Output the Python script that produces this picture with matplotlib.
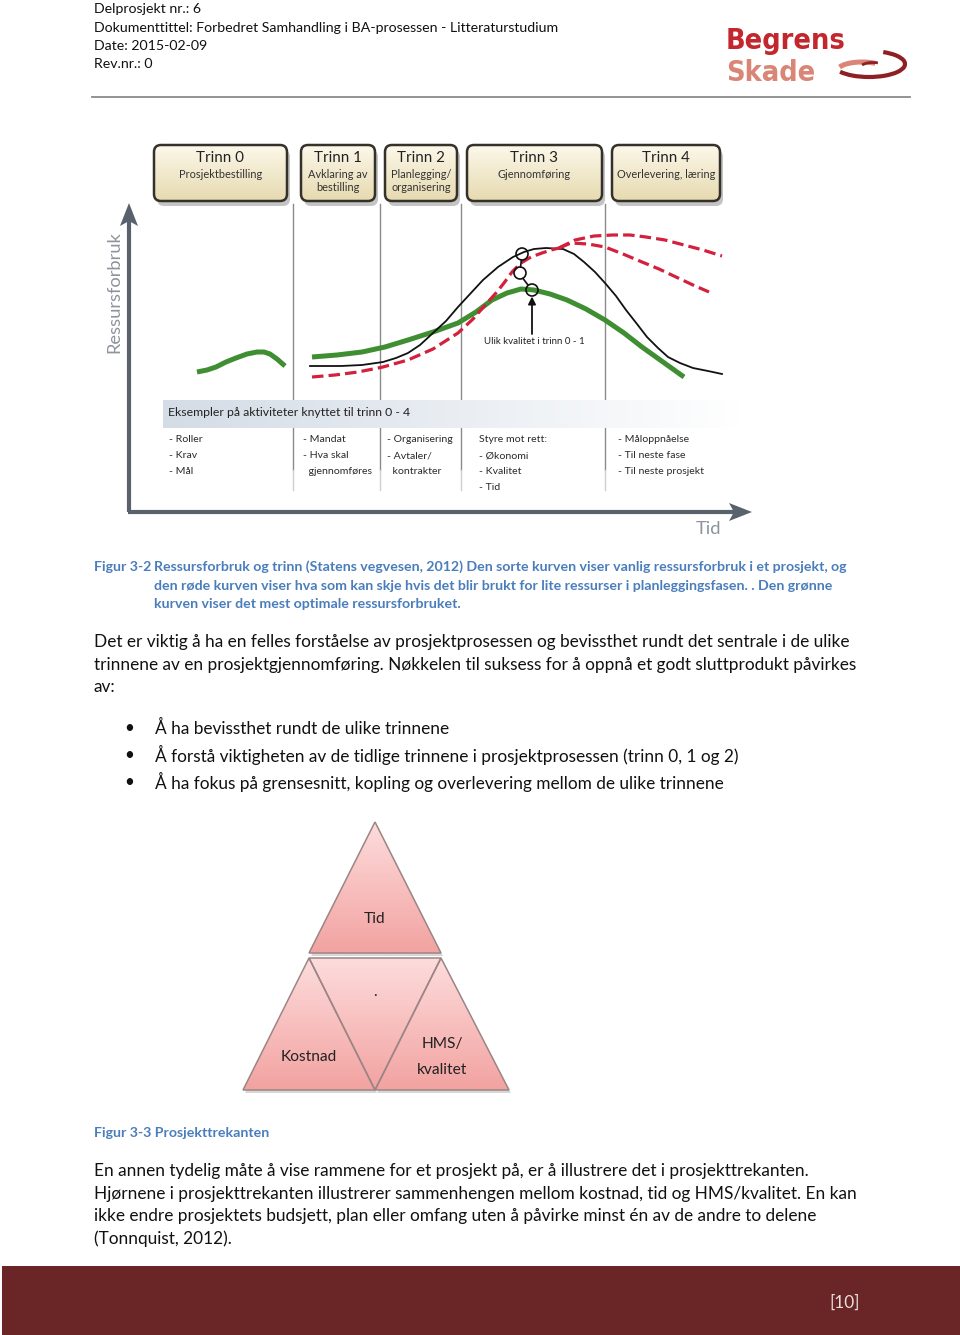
import numpy as np
import matplotlib
matplotlib.use('Agg')
import matplotlib.pyplot as plt
from matplotlib.patches import FancyBboxPatch, Polygon, Rectangle, Circle, Arc
from matplotlib.textpath import TextPath
from matplotlib.font_manager import FontProperties

# ---- page text ----
header = ['Delprosjekt nr.: 6',
          'Dokumenttittel: Forbedret Samhandling i BA-prosessen - Litteraturstudium',
          'Date: 2015-02-09',
          'Rev.nr.: 0']

stage_titles = ['Trinn 0', 'Trinn 1', 'Trinn 2', 'Trinn 3', 'Trinn 4']
stage_sub = [['Prosjektbestilling'], ['Avklaring av', 'bestilling'],
             ['Planlegging/', 'organisering'], ['Gjennomføring'],
             ['Overlevering, læring']]

activities = [['- Roller', '- Krav', '- Mål'],
              ['- Mandat', '- Hva skal', '  gjennomføres'],
              ['- Organisering', '- Avtaler/', '  kontrakter'],
              ['Styre mot rett:', '- Økonomi', '- Kvalitet', '- Tid'],
              ['- Måloppnåelse', '- Til neste fase', '- Til neste prosjekt']]

# curve points (page pixels: x, y)
green_small_x = [197, 207, 216, 226, 236, 247, 257, 264, 270, 277, 285]
green_small_y = [372, 370, 367, 362, 358, 354, 352, 352, 354, 359, 366]

black_x = [310, 341, 362, 383, 396, 408, 420, 433, 446, 458, 470, 483, 498, 513, 524, 534, 546, 563, 574, 584, 595, 605, 616, 626, 637, 647, 658, 668, 680, 693, 708, 722]
black_y = [366, 366, 365, 362, 358, 353, 345, 333, 321, 307, 294, 280, 267, 257, 252, 249, 248, 249, 254, 262, 272, 283, 296, 310, 324, 337, 348, 357, 363, 368, 371, 374]

red_x = [312, 335, 358, 383, 408, 433, 458, 473, 487, 496, 504, 512, 521, 531, 542, 551, 559]
red_y = [377, 375, 372, 367, 360, 349, 333, 319, 303, 293, 283, 272, 263, 257, 253, 250, 248]
red_hi_x = [559, 575, 594, 613, 630, 646, 665, 684, 703, 722]
red_hi_y = [248, 240, 236, 235, 235, 237, 240, 245, 250, 256]
red_lo_x = [559, 571, 588, 605, 623, 642, 659, 676, 693, 709]
red_lo_y = [248, 243, 244, 247, 254, 262, 269, 277, 285, 292]

green_x = [312, 337, 362, 385, 408, 433, 458, 476, 492, 507, 521, 534, 550, 567, 586, 605, 624, 642, 663, 684]
green_y = [357, 355, 352, 347, 340, 332, 323, 312, 300, 293, 289, 290, 294, 300, 309, 320, 333, 347, 362, 377]

marker_x = [522, 520, 532]
marker_y = [254, 273, 290]

para1 = ['Det er viktig å ha en felles forståelse av prosjektprosessen og bevissthet rundt det sentrale i de ulike',
         'trinnene av en prosjektgjennomføring. Nøkkelen til suksess for å oppnå et godt sluttprodukt påvirkes',
         'av:']
bullets = ['Å ha bevissthet rundt de ulike trinnene',
           'Å forstå viktigheten av de tidlige trinnene i prosjektprosessen (trinn 0, 1 og 2)',
           'Å ha fokus på grensesnitt, kopling og overlevering mellom de ulike trinnene']
caption1 = ['Ressursforbruk og trinn (Statens vegvesen, 2012) Den sorte kurven viser vanlig ressursforbruk i et prosjekt, og',
            'den røde kurven viser hva som kan skje hvis det blir brukt for lite ressurser i planleggingsfasen. . Den grønne',
            'kurven viser det mest optimale ressursforbruket.']
para2 = ['En annen tydelig måte å vise rammene for et prosjekt på, er å illustrere det i prosjekttrekanten.',
         'Hjørnene i prosjekttrekanten illustrerer sammenhengen mellom kostnad, tid og HMS/kvalitet. En kan',
         'ikke endre prosjektets budsjett, plan eller omfang uten å påvirke minst én av de andre to delene',
         '(Tonnquist, 2012).']

# ---- setup ----
W, H = 960, 1335
fig = plt.figure(figsize=(9.6, 13.35), dpi=100)
ax = fig.add_axes([0, 0, 1, 1])
ax.set_xlim(0, W)
ax.set_ylim(H, 0)
ax.axis('off')

BODY = 'Lato'
DIAG = 'Lato'


def size_for(s, width, family, weight='normal', stretch='normal'):
    tp = TextPath((0, 0), s, size=10, prop=FontProperties(family=family, weight=weight, stretch=stretch))
    return 10 * width / (tp.get_extents().width * 100 / 72)


def grad_fill(patch, extent, c_top, c_bot, zorder=2, horizontal=False):
    t = np.linspace(0, 1, 64)
    c0, c1 = np.array(matplotlib.colors.to_rgb(c_top)), np.array(matplotlib.colors.to_rgb(c_bot))
    cols = c0[None, :] * (1 - t[:, None]) + c1[None, :] * t[:, None]
    img = cols[None, :, :] if horizontal else cols[:, None, :]
    im = ax.imshow(img, extent=extent, aspect='auto', zorder=zorder, interpolation='bilinear')
    im.set_clip_path(patch)


def dtext(s, x, y, size, color='#222222', ha='left', **kw):
    ax.text(x, y, s, fontsize=size, family=DIAG, color=color, ha=ha, va='center', zorder=6, **kw)


# ---- header ----
hs = size_for(header[1], 462, BODY)
for i, s in enumerate(header):
    ax.text(94, 9 + i * 18.5, s, fontsize=hs, family=BODY, color='#111111', va='center')
ax.plot([92, 910], [97, 97], color='#8a8a8a', lw=1.3)

# logo
ls = 0.88 * size_for('Begrens', 132, 'DejaVu Sans', 'bold', 'condensed')
ax.text(726, 49, 'Begrens', fontsize=ls, family='DejaVu Sans', weight='bold', stretch='condensed',
        color='#c4262e', va='baseline', zorder=5)
ax.text(726, 81, 'Skade', fontsize=ls, family='DejaVu Sans', weight='bold', stretch='condensed',
        color='#d98676', va='baseline', zorder=5)
ax.add_patch(Arc((869, 64), 72, 26, theta1=-40, theta2=165, color='#8e1f24', lw=3.0, zorder=5))
ax.add_patch(Arc((862, 71), 50, 18, theta1=190, theta2=330, color='#d98676', lw=3.6, zorder=5))
ax.add_patch(Arc((873, 67), 24, 9, theta1=190, theta2=320, color='#8e1f24', lw=2.0, zorder=5))

# ---- diagram ----
box_left = [154, 301, 385, 467, 612]
box_right = [287, 375, 457, 602, 720]
bt, bb, r = 145, 201, 7
ts = size_for('Trinn 0', 47, DIAG)
ss = size_for('Prosjektbestilling', 81, DIAG)
for i in range(5):
    x0, x1 = box_left[i], box_right[i]
    sh = FancyBboxPatch((x0 + r + 3, bt + r + 5), x1 - x0 - 2 * r, bb - bt - 2 * r,
                        boxstyle=f'round,pad={r}', fc='#8a8a8a', ec='none', alpha=0.5, zorder=2)
    ax.add_patch(sh)
    p = FancyBboxPatch((x0 + r, bt + r), x1 - x0 - 2 * r, bb - bt - 2 * r,
                       boxstyle=f'round,pad={r}', fc='none', ec='#34312b', lw=1.8, zorder=4)
    ax.add_patch(p)
    grad_fill(p, (x0, x1, bb, bt), '#fcf8ea', '#e6dab0', zorder=3)
    cx = (x0 + x1) / 2
    dtext(stage_titles[i], cx, 158, ts, '#222222', ha='center')
    for j, s in enumerate(stage_sub[i]):
        dtext(s, cx, 174 + j * 13.5, ss, '#333333', ha='center')

# stage separators
for x in [293, 380, 461, 605]:
    ax.plot([x, x], [204, 470], color='#8a8a8a', lw=1.0, zorder=1)
    ax.plot([x, x], [470, 490], color='#cfcfcf', lw=1.0, zorder=1)

# grey band
band = Rectangle((163, 400), 582, 28, fc='none', ec='none')
ax.add_patch(band)
grad_fill(band, (163, 745, 428, 400), '#d4dce6', '#ffffff', zorder=1.5, horizontal=True)
dtext('Eksempler på aktiviteter knyttet til trinn 0 - 4', 168, 412,
      size_for('Eksempler på aktiviteter knyttet til trinn 0 - 4', 242, DIAG))

col_x = [169, 303, 387, 479, 618]
cs = size_for('- Til neste prosjekt', 85, DIAG)
for cx, items in zip(col_x, activities):
    for j, s in enumerate(items):
        dtext(s, cx, 440 + j * 16, cs, '#2a2a2a')

# axes arrows
axc = '#58616c'
ax.plot([129, 129], [512, 218], color=axc, lw=3.0, zorder=3, solid_capstyle='butt')
ax.plot([128, 738], [512, 512], color=axc, lw=3.0, zorder=3, solid_capstyle='butt')
ax.add_patch(Polygon([(120, 226), (129, 203), (138, 226), (129, 221)], closed=True, fc=axc, ec='none', zorder=3))
ax.add_patch(Polygon([(729, 503), (752, 512), (729, 521), (734, 512)], closed=True, fc=axc, ec='none', zorder=3))
dtext('Ressursforbruk', 114, 292, size_for('Ressursforbruk', 120, DIAG), '#8d949c', ha='center', rotation=90)
dtext('Tid', 709, 529, size_for('Tid', 24, DIAG), '#8d949c', ha='center')

# curves
ax.plot(green_small_x, green_small_y, color='#3f8f32', lw=3.6, solid_capstyle='butt', zorder=6)
ax.plot(green_x, green_y, color='#3f8f32', lw=3.6, solid_capstyle='butt', zorder=6)
ax.plot(black_x, black_y, color='#111111', lw=1.3, zorder=7)
for xs, ys in [(red_x, red_y), (red_hi_x, red_hi_y), (red_lo_x, red_lo_y)]:
    ax.plot(xs, ys, color='#d3203c', lw=2.3, dashes=(3.6, 1.6), zorder=8)

for mx, my in zip(marker_x, marker_y):
    ax.add_patch(Circle((mx, my), 6, fc='none', ec='#111', lw=1.2, zorder=9))
ax.plot([521.5, 520.5], [260, 267], color='#111', lw=1.2, zorder=9)
ax.plot([523, 528], [278.5, 285], color='#111', lw=1.2, zorder=9)
ax.annotate('', xy=(532, 296.5), xytext=(532, 334),
            arrowprops=dict(arrowstyle='-|>', color='#111', lw=1.3, mutation_scale=11, shrinkA=0, shrinkB=0), zorder=9)
dtext('Ulik kvalitet i trinn 0 - 1', 534, 342, size_for('Ulik kvalitet i trinn 0 - 1', 100, DIAG), '#222222', ha='center')

# ---- captions and body text ----
blue = '#4a7dbb'
cap_size = size_for(caption1[0], 692, BODY, 'bold')
ax.text(94, 567, 'Figur 3-2', fontsize=cap_size, family=BODY, weight='bold', color=blue, va='center')
for i, s in enumerate(caption1):
    ax.text(154, 567 + i * 18.5, s, fontsize=cap_size, family=BODY, weight='bold', color=blue, va='center')

body_size = size_for(para1[0], 754, BODY)
for i, s in enumerate(para1):
    ax.text(94, 642 + i * 22.7, s, fontsize=body_size, family=BODY, color='#111', va='center')
for i, s in enumerate(bullets):
    y = 728 + i * 27
    ax.text(129, y, '•', fontsize=body_size, family=BODY, color='#111', ha='center', va='center')
    ax.text(155, y, s, fontsize=body_size, family=BODY, color='#111', va='center')

# triangle
tri_top = [(309, 953), (375, 822), (441, 953)]
tri_left = [(243, 1090), (309, 958), (375, 1090)]
tri_mid = [(309, 958), (441, 958), (375, 1090)]
tri_right = [(375, 1090), (441, 958), (509, 1090)]
for pts in [tri_top, tri_left, tri_right]:
    ax.add_patch(Polygon([(x + 2, y + 3) for x, y in pts], closed=True, fc='#b0b0b0', ec='none', alpha=0.5, zorder=2))
for pts, ext in [(tri_top, (309, 441, 953, 822)), (tri_left, (243, 375, 1090, 958)),
                 (tri_mid, (309, 441, 1090, 958)), (tri_right, (375, 509, 1090, 958))]:
    p = Polygon(pts, closed=True, fc='none', ec='#9c8585', lw=1.1, zorder=4)
    ax.add_patch(p)
    grad_fill(p, ext, '#fddcdc', '#f2a3a1', zorder=3)
tsz = 11.2
ax.text(375, 919, 'Tid', fontsize=tsz, family=BODY, color='#222', ha='center', va='center', zorder=5)
ax.text(375, 992, '.', fontsize=tsz, family=BODY, color='#222', ha='center', va='center', zorder=5)
ax.text(309, 1057, 'Kostnad', fontsize=tsz, family=BODY, color='#222', ha='center', va='center', zorder=5)
ax.text(442, 1044, 'HMS/', fontsize=tsz, family=BODY, color='#222', ha='center', va='center', zorder=5)
ax.text(442, 1070, 'kvalitet', fontsize=tsz, family=BODY, color='#222', ha='center', va='center', zorder=5)

ax.text(94, 1133, 'Figur 3-3 Prosjekttrekanten', fontsize=cap_size, family=BODY, weight='bold', color=blue, va='center')
for i, s in enumerate(para2):
    ax.text(94, 1171 + i * 22.7, s, fontsize=body_size, family=BODY, color='#111', va='center')

# footer
ax.add_patch(Rectangle((2, 1266), 958, 69, fc='#6a2626', ec='none', zorder=1))
ax.text(845, 1303, '[10]', fontsize=body_size, family=BODY, color='#eadede', ha='center', va='center', zorder=2)

fig.savefig('out.png', dpi=100)
